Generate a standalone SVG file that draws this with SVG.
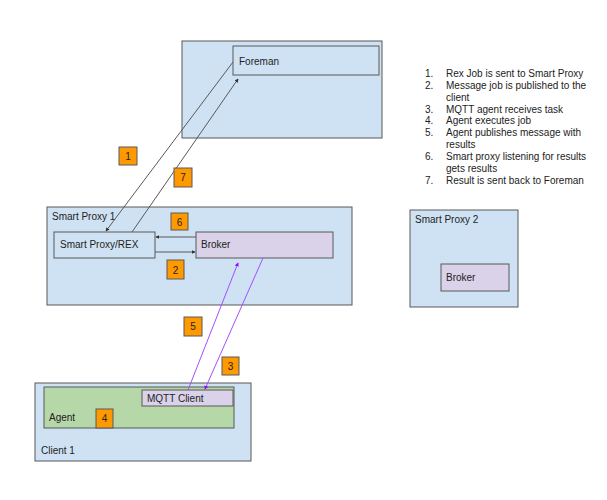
<svg xmlns="http://www.w3.org/2000/svg" width="607" height="500" viewBox="0 0 607 500">
<defs>
<marker id="ag" viewBox="0 0 6 6" refX="5" refY="3" markerWidth="4" markerHeight="4" orient="auto" markerUnits="userSpaceOnUse"><path d="M0,0 L6,3 L0,6 z" fill="#333"/></marker>
<marker id="ap" viewBox="0 0 6 6" refX="5" refY="3" markerWidth="4" markerHeight="4" orient="auto" markerUnits="userSpaceOnUse"><path d="M0,0 L6,3 L0,6 z" fill="#9900ff"/></marker>
</defs>
<style>
text{font-family:"Liberation Sans",Arial,sans-serif;font-size:10px;fill:#222}
.blue{fill:#cfe2f3;stroke:#595959;stroke-width:1}
.lav{fill:#d9d2e9;stroke:#595959;stroke-width:1}
.green{fill:#b6d7a8;stroke:#595959;stroke-width:1}
.num{fill:#ff9900;stroke:#595959;stroke-width:1}
.c{text-anchor:middle}
.g{stroke:#595959;stroke-width:1;fill:none;marker-end:url(#ag)}
.p{stroke:#a64dff;stroke-width:1;fill:none;marker-end:url(#ap)}
</style>
<rect width="607" height="500" fill="#fff"/>
<g id="foreman-outer"><rect class="blue" x="182" y="41" width="200" height="97"/></g>
<g id="foreman"><rect class="blue" x="233" y="46" width="146" height="29"/><text x="239" y="65">Foreman</text></g>
<g id="smart-proxy-1"><rect class="blue" x="47" y="207" width="305" height="98"/><text x="52" y="220">Smart Proxy 1</text></g>
<g id="smart-proxy-rex"><rect class="blue" x="54" y="232" width="101" height="26"/><text x="60" y="248">Smart Proxy/REX</text></g>
<g id="broker-1"><rect class="lav" x="196" y="232" width="137" height="26"/><text x="201" y="248">Broker</text></g>
<g id="smart-proxy-2"><rect class="blue" x="410" y="210" width="108" height="97"/><text x="415" y="223">Smart Proxy 2</text></g>
<g id="broker-2"><rect class="lav" x="441" y="264" width="68" height="27"/><text x="446" y="281">Broker</text></g>
<g id="client-1"><rect class="blue" x="35" y="383" width="216" height="78"/><text x="41" y="454">Client 1</text></g>
<g id="agent"><rect class="green" x="44" y="387" width="190" height="41"/><text x="49" y="421">Agent</text></g>
<g id="mqtt-client"><rect class="lav" x="142" y="390" width="91" height="16"/><text x="147" y="402">MQTT Client</text></g>
<g id="connectors">
<line class="g" x1="233" y1="62" x2="106" y2="231"/>
<line class="g" x1="132" y1="232" x2="238" y2="79"/>
<line class="g" x1="196" y1="237" x2="156" y2="237"/>
<line class="g" x1="155" y1="252" x2="195" y2="252"/>
<line class="p" x1="263" y1="258" x2="205" y2="389"/>
<line class="p" x1="188" y1="390" x2="238" y2="263"/>
</g>
<g id="label-1"><rect class="num" x="119" y="147" width="18" height="18"/><text class="c" x="128" y="160">1</text></g>
<g id="label-7"><rect class="num" x="174" y="168" width="18" height="19"/><text class="c" x="183" y="181">7</text></g>
<g id="label-6"><rect class="num" x="171" y="213" width="17" height="17"/><text class="c" x="179.5" y="225.5">6</text></g>
<g id="label-2"><rect class="num" x="167" y="260" width="17" height="19"/><text class="c" x="175.5" y="273.5">2</text></g>
<g id="label-5"><rect class="num" x="184" y="317" width="18" height="19"/><text class="c" x="193" y="330">5</text></g>
<g id="label-3"><rect class="num" x="222" y="357" width="17" height="18"/><text class="c" x="230.5" y="370">3</text></g>
<g id="label-4"><rect class="num" x="96" y="409" width="17" height="19"/><text class="c" x="104.5" y="422">4</text></g>
<g id="legend">
<text x="425" y="77">1.</text><text x="446" y="77">Rex Job is sent to Smart Proxy</text>
<text x="425" y="89">2.</text><text x="446" y="89">Message job is published to the</text>
<text x="446" y="101">client</text>
<text x="425" y="113">3.</text><text x="446" y="113">MQTT agent receives task</text>
<text x="425" y="124">4.</text><text x="446" y="124">Agent executes job</text>
<text x="425" y="136">5.</text><text x="446" y="136">Agent publishes message with</text>
<text x="446" y="148">results</text>
<text x="425" y="160">6.</text><text x="446" y="160">Smart proxy listening for results</text>
<text x="446" y="172">gets results</text>
<text x="425" y="184">7.</text><text x="446" y="184">Result is sent back to Foreman</text>
</g>
</svg>
